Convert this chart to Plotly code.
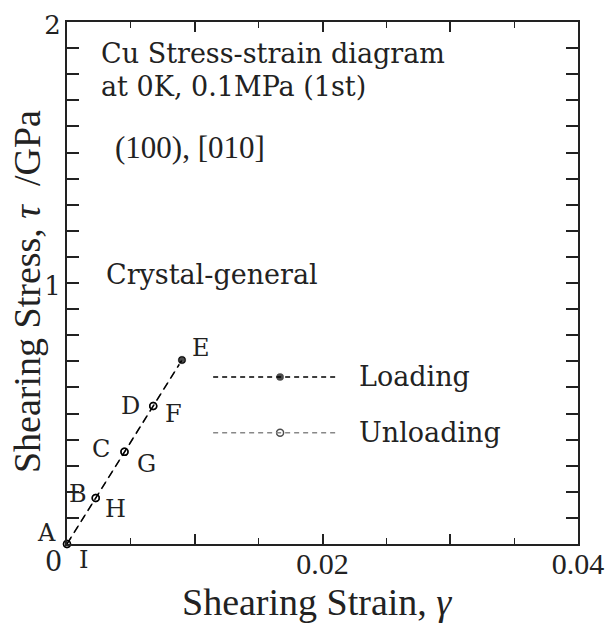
import plotly.graph_objects as go

# data
strain_load = [0.0, 0.00225, 0.0045, 0.00675, 0.009]
stress_load = [0.0, 0.176, 0.353, 0.529, 0.705]
load_labels = ["A", "B", "C", "D", "E"]
strain_unload = [0.009, 0.00675, 0.0045, 0.00225, 0.0]
stress_unload = [0.705, 0.529, 0.353, 0.176, 0.0]
unload_labels = ["E", "F", "G", "H", "I"]
x_tickvals = [0.01, 0.02, 0.03, 0.04]
x_ticktext = ["", "0.02", "", "0.04"]
y_tickvals = [1, 2]
y_ticktext = ["1", "2"]

TIMES = "Liberation Serif, Times New Roman, serif"
CM = "DejaVu Serif, serif"
INK = "#222"

fig = go.Figure()
fig.add_trace(go.Scatter(
    x=strain_unload, y=stress_unload, mode="lines+markers",
    line=dict(color="#777", width=1.3, dash="8px,5px"),
    marker=dict(symbol="circle-open", size=7, color="black", line=dict(width=1.5)),
    showlegend=False, cliponaxis=False))
fig.add_trace(go.Scatter(
    x=strain_load, y=stress_load, mode="lines+markers",
    line=dict(color="black", width=1.5, dash="8px,5px"),
    marker=dict(symbol=["circle-open"] * 4 + ["circle"], size=[7, 7, 7, 7, 9],
                color="black", line=dict(width=1.5)),
    showlegend=False, cliponaxis=False))

# point labels
load_off = [(-21, 11), (-18, 4), (-23, 3), (-23, 0), (19, 12)]
unload_off = [(0, 0), (20, -8), (22, -12), (20, -11), (16, -16)]
for x, y, t, (dx, dy) in zip(strain_load, stress_load, load_labels, load_off):
    fig.add_annotation(x=x, y=y, text=t, showarrow=False, xshift=dx, yshift=dy,
                       font=dict(family=CM, size=24, color=INK))
for x, y, t, (dx, dy) in list(zip(strain_unload, stress_unload, unload_labels, unload_off))[1:]:
    fig.add_annotation(x=x, y=y, text=t, showarrow=False, xshift=dx, yshift=dy,
                       font=dict(family=CM, size=24, color=INK))

def note(text, xp, yp, family, size, **kw):
    fig.add_annotation(x=xp, y=yp, xref="paper", yref="paper", xanchor=kw.pop("xanchor", "left"),
                       yanchor=kw.pop("yanchor", "middle"), text=text, showarrow=False,
                       font=dict(family=family, size=size, color=INK), **kw)

# texts
note("Cu Stress-strain diagram", 0.063, 0.940, CM, 27)
note("at 0K, 0.1MPa (1st)", 0.063, 0.876, CM, 27)
note("(100), [010]", 0.090, 0.759, TIMES, 31)
note("Crystal-general", 0.072, 0.517, CM, 27)
note("0", -0.027, -0.034, CM, 27, xanchor="center")

# axis titles
note("Shearing Strain, <i>γ</i>", 0.49, -0.153, TIMES, 38, xanchor="center", yanchor="bottom",
     borderpad=0)
note("Shearing Stress, <i>τ</i>  /GPa", -0.078, 0.483, TIMES, 38, xanchor="center", textangle=-90)

# legend drawn manually
leg_names = ["Loading", "Unloading"]
leg_y = [0.320, 0.213]
leg_col = ["black", "#888"]
for name, yp, col in zip(leg_names, leg_y, leg_col):
    fig.add_shape(type="line", xref="paper", yref="paper", x0=0.286, x1=0.525, y0=yp, y1=yp,
                  line=dict(color=col, width=1.4, dash="5px,4px"))
    note(name, 0.568, yp, CM, 27)
fig.add_trace(go.Scatter(x=[0.417, 0.417], y=leg_y, xaxis="x2", yaxis="y2",
                         mode="markers", showlegend=False,
                         marker=dict(symbol=["circle", "circle-open"], size=[9, 7], color="black",
                                     line=dict(width=1.5))))

fig.update_layout(
    width=607, height=624, margin=dict(l=67, r=29, t=22, b=80),
    paper_bgcolor="white", plot_bgcolor="white",
    font=dict(family=TIMES, color=INK),
    xaxis=dict(range=[0, 0.04], tickvals=x_tickvals, ticktext=x_ticktext, automargin=False,
               ticks="inside", ticklen=10, tickwidth=1.5, tickcolor=INK, ticklabelstandoff=-8,
               minor=dict(dtick=0.005, ticks="inside", ticklen=6, tickwidth=1.2, tickcolor=INK),
               showline=True, linecolor=INK, linewidth=2, mirror="ticks",
               showgrid=False, zeroline=False, tickfont=dict(family=TIMES, size=30)),
    yaxis=dict(range=[0, 2], tickvals=y_tickvals, ticktext=y_ticktext, automargin=False,
               ticks="inside", ticklen=12, tickwidth=1.5, tickcolor=INK,
               ticklabelstandoff=-1, ticklabelshift=3,
               minor=dict(dtick=0.1, ticks="inside", ticklen=12, tickwidth=1.5, tickcolor=INK),
               showline=True, linecolor=INK, linewidth=2, mirror="ticks",
               showgrid=False, zeroline=False, tickfont=dict(family=CM, size=26)),
    xaxis2=dict(range=[0, 1], overlaying="x", visible=False, fixedrange=True),
    yaxis2=dict(range=[0, 1], overlaying="y", visible=False, fixedrange=True),
)
fig.write_html("out.html")
